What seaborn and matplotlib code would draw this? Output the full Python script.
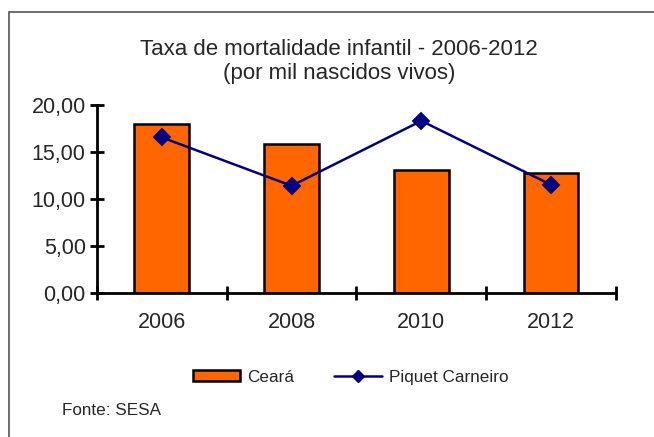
import numpy as np
import pandas as pd
import seaborn as sns
import matplotlib.pyplot as plt
from matplotlib.patches import Rectangle, Patch
from matplotlib.lines import Line2D
from matplotlib.ticker import FuncFormatter, FixedLocator

# dados
anos = ["2006", "2008", "2010", "2012"]
ceara = [18.0, 15.85, 13.1, 12.8]
piquet = [16.55, 11.4, 18.3, 11.5]

df = pd.DataFrame({"Ano": anos, "Ceará": ceara, "Piquet Carneiro": piquet})

sns.set_style("white")
plt.rcParams["font.family"] = ["Liberation Sans", "DejaVu Sans"]

fig = plt.figure(figsize=(6.54, 4.37), dpi=100)
ax = fig.add_axes([0.148, 0.3295, 0.794, 0.4305])

sns.barplot(data=df, x="Ano", y="Ceará", color="#FF6600", width=0.42,
            edgecolor="black", linewidth=1.8, saturation=1, ax=ax)
sns.pointplot(data=df, x="Ano", y="Piquet Carneiro", color="#000080",
              marker="D", markersize=8.5, linewidth=1.8, ax=ax)

ax.set_xlim(-0.5, 3.5)
ax.set_ylim(0, 20)
ax.set_yticks([0, 5, 10, 15, 20])
ax.yaxis.set_major_formatter(FuncFormatter(lambda v, p: f"{v:.2f}".replace(".", ",")))
ax.xaxis.set_major_locator(FixedLocator([-0.5, 0.5, 1.5, 2.5, 3.5]))
ax.xaxis.set_minor_locator(FixedLocator([0, 1, 2, 3]))
ax.set_xticklabels([], minor=False)
ax.set_xticklabels(anos, minor=True)
ax.tick_params(axis="x", which="major", bottom=True, direction="inout", length=10, width=2, color="black")
ax.tick_params(axis="x", which="minor", bottom=True, length=0, pad=14, labelsize=15.5)
ax.tick_params(axis="y", left=True, direction="inout", length=10, width=2, color="black", labelsize=15.5, pad=3)
ax.set_xlabel("")
ax.set_ylabel("")
sns.despine(ax=ax)
for s in ["left", "bottom"]:
    ax.spines[s].set_linewidth(2)
    ax.spines[s].set_color("black")

fig.text(0.518, 0.86, "Taxa de mortalidade infantil - 2006-2012\n(por mil nascidos vivos)",
         ha="center", va="center", fontsize=16, linespacing=1.2)

handles = [Patch(facecolor="#FF6600", edgecolor="black", linewidth=1.8),
           Line2D([], [], color="#000080", marker="D", markersize=6, linewidth=1.8)]
fig.legend(handles, ["Ceará", "Piquet Carneiro"], loc="center", ncol=2,
           bbox_to_anchor=(0.536, 0.137), frameon=False, fontsize=12.3,
           handlelength=2.8, handleheight=0.6, handletextpad=0.4, columnspacing=2.35)

fig.text(0.095, 0.061, "Fonte: SESA", ha="left", va="center", fontsize=12.3)

fig.patches.append(Rectangle((9 / 654, -0.1), 1.2, 1.1 - 12 / 437, transform=fig.transFigure,
                             fill=False, edgecolor="#555555", linewidth=1.2, clip_on=False))

fig.savefig("out.png", dpi=100)
